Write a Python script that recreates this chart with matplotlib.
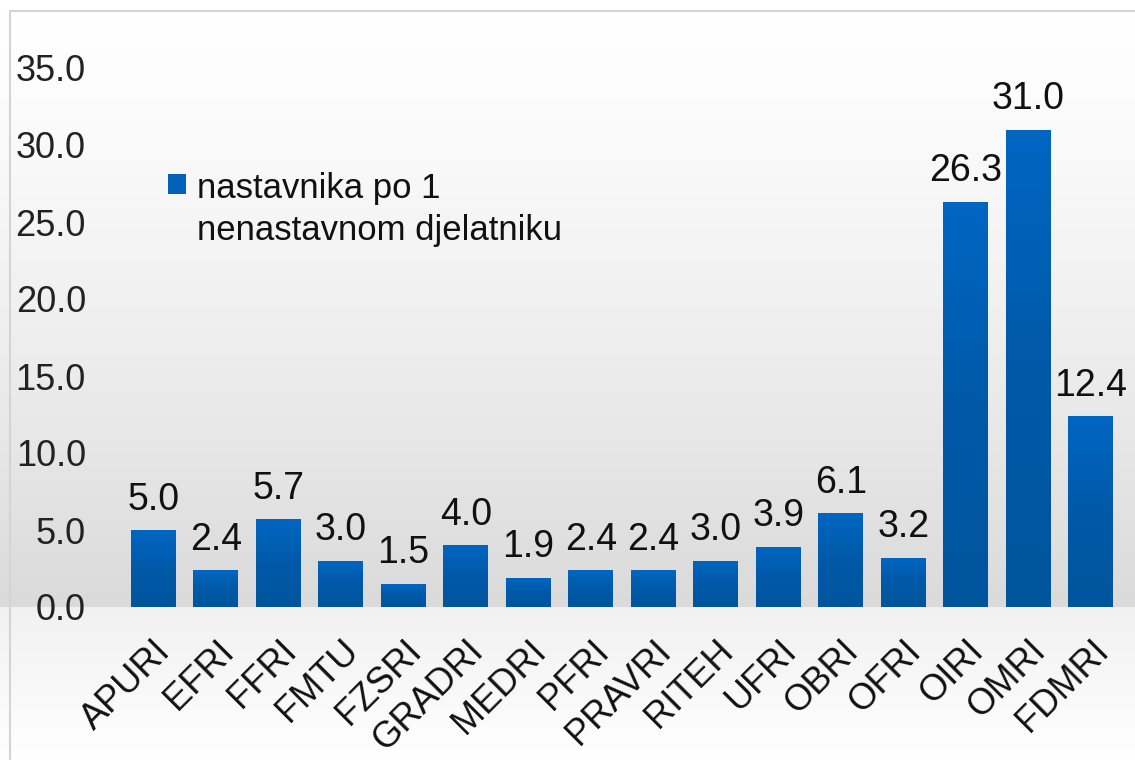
import numpy as np
import matplotlib
matplotlib.use("Agg")
import matplotlib.pyplot as plt
from matplotlib.colors import LinearSegmentedColormap
from matplotlib.patches import Rectangle

plt.rcParams["font.family"] = ["Liberation Sans", "DejaVu Sans"]

# data
faculties = ["APURI", "EFRI", "FFRI", "FMTU", "FZSRI", "GRADRI", "MEDRI", "PFRI",
             "PRAVRI", "RITEH", "UFRI", "OBRI", "OFRI", "OIRI", "OMRI", "FDMRI"]
ratio = [5.0, 2.4, 5.7, 3.0, 1.5, 4.0, 1.9, 2.4, 2.4, 3.0, 3.9, 6.1, 3.2, 26.3, 31.0, 12.4]
yticks = [0, 5, 10, 15, 20, 25, 30, 35]
series_name = "nastavnika po 1\nnenastavnom djelatniku"

W, H = 1135, 760
zero_px, top35_px, border_px = 607, 68, 11
fig = plt.figure(figsize=(W / 100, H / 100), dpi=100)

# background: white -> grey down to the zero line, then light grey -> white below it
rows = np.arange(H)
shade = np.where(rows < zero_px,
                 1.0 - 0.145 * np.clip((rows - border_px) / (zero_px - border_px), 0, 1) ** 1.3,
                 0.945 + 0.055 * (rows - zero_px) / (H - zero_px))
rgb = np.repeat(shade.reshape(-1, 1, 1), 3, axis=2)
bg = fig.add_axes([0, 0, 1, 1], zorder=-10)
bg.set_axis_off()
bg.imshow(rgb, aspect="auto", extent=[0, 1, 0, 1], origin="upper", interpolation="nearest")
bg.set_xlim(0, 1)
bg.set_ylim(0, 1)
fig.patches.append(Rectangle((10 / W, -0.1), 1.2, 0.1 + (H - border_px) / H,
                             transform=fig.transFigure, fill=False,
                             edgecolor="#d4d4d4", linewidth=1.5, zorder=5))

left, right = 122 / W, 1122 / W
top_px = 30
ymax = 35 * (zero_px - top_px) / (zero_px - top35_px)
ax = fig.add_axes([left, (H - zero_px) / H, right - left, (zero_px - top_px) / H])
ax.patch.set_visible(False)

x = np.arange(len(faculties))
bars = ax.bar(x, ratio, width=0.72, color="#0062b8", zorder=2)
cm_bar = LinearSegmentedColormap.from_list("bar", ["#00559d", "#0059a8", "#0066c2"])
for b in bars:
    x0, w, h = b.get_x(), b.get_width(), b.get_height()
    im = ax.imshow(np.linspace(0, 1, 64).reshape(-1, 1), aspect="auto", origin="lower",
                   extent=[x0, x0 + w, 0, h], cmap=cm_bar, zorder=3)
    im.set_clip_path(b)
    ax.annotate(f"{h:.1f}", (x0 + w / 2, h), xytext=(0, 9), textcoords="offset points",
                ha="center", va="bottom", fontsize=27, color="#111111", zorder=4)

ax.set_xlim(-0.5, len(faculties) - 0.5)
ax.set_ylim(0, ymax)
ax.set_yticks(yticks)
ax.set_yticklabels([f"{v:.1f}" for v in yticks], fontsize=26, color="#222222")
ax.set_xticks(x)
ax.set_xticklabels(faculties, rotation=45, ha="right", rotation_mode="anchor",
                   fontsize=26, color="#111111")
ax.tick_params(axis="both", length=0)
ax.tick_params(axis="y", pad=26)
ax.tick_params(axis="x", pad=19)
for s in ax.spines.values():
    s.set_visible(False)

# legend: square key beside the first line of a two-line label
sq = Rectangle((168 / W, 1 - 194 / H), 18 / W, 20 / H, transform=fig.transFigure,
               facecolor="#0062b8", edgecolor="none", zorder=6)
fig.patches.append(sq)
fig.text(197 / W, 1 - 240 / H, series_name, ha="left", va="baseline",
         fontsize=25, color="#111111", linespacing=1.35, zorder=6)

fig.savefig("out.png", dpi=100)
